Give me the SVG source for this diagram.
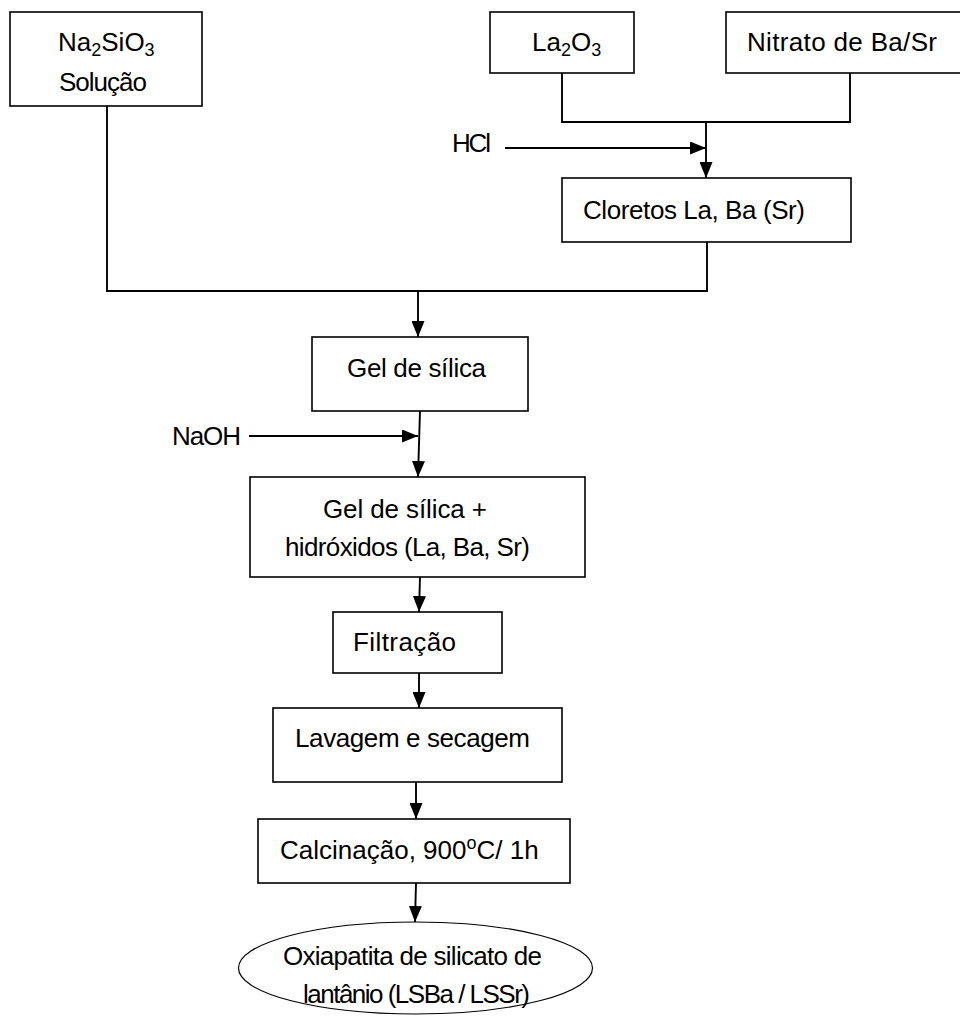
<svg xmlns="http://www.w3.org/2000/svg" width="960" height="1016" viewBox="0 0 960 1016">
<style>
.box{fill:#fff;stroke:#000;stroke-width:1.6}
.ln{fill:none;stroke:#000;stroke-width:1.9}
.t{font-family:"Liberation Sans",Arial,sans-serif;font-size:26px;fill:#000}
</style>
<defs>
<marker id="arr" markerUnits="userSpaceOnUse" viewBox="0 0 16 13" markerWidth="16" markerHeight="13" refX="16" refY="6.5" orient="auto">
<path d="M0,0 L16,6.5 L0,13 z" fill="#000"/>
</marker>
</defs>
<rect width="960" height="1016" fill="#fff"/>
<g id="connectors">
<polyline class="ln" points="562,73 562,122 850,122 850,73"/>
<line class="ln" x1="706" y1="122" x2="706" y2="178" marker-end="url(#arr)"/>
<line class="ln" x1="505" y1="148" x2="706" y2="148" marker-end="url(#arr)"/>
<polyline class="ln" points="107,106 107,291 707,291 707,242"/>
<line class="ln" x1="418" y1="291" x2="418" y2="337" marker-end="url(#arr)"/>
<line class="ln" x1="420" y1="411" x2="418" y2="477" marker-end="url(#arr)"/>
<line class="ln" x1="249" y1="436" x2="418" y2="436" marker-end="url(#arr)"/>
<line class="ln" x1="420" y1="577" x2="419" y2="612" marker-end="url(#arr)"/>
<line class="ln" x1="419" y1="673" x2="419" y2="708" marker-end="url(#arr)"/>
<line class="ln" x1="416" y1="782" x2="416" y2="819" marker-end="url(#arr)"/>
<line class="ln" x1="416" y1="883" x2="415" y2="922" marker-end="url(#arr)"/>
</g>
<g id="na2sio3">
<rect class="box" x="10" y="12" width="192" height="94"/>
<text class="t" x="58" y="51">Na<tspan font-size="18" dy="5">2</tspan><tspan dy="-5">SiO</tspan><tspan font-size="18" dy="5">3</tspan></text>
<text class="t" x="59" y="91" textLength="88">Solução</text>
</g>
<g id="la2o3">
<rect class="box" x="490" y="12" width="144" height="61"/>
<text class="t" x="532" y="51">La<tspan font-size="18" dy="5">2</tspan><tspan dy="-5">O</tspan><tspan font-size="18" dy="5">3</tspan></text>
</g>
<g id="nitrato">
<rect class="box" x="726" y="12" width="240" height="61"/>
<text class="t" x="747" y="51" textLength="190">Nitrato de Ba/Sr</text>
</g>
<g id="hcl">
<text class="t" x="452" y="152" textLength="39">HCl</text>
</g>
<g id="cloretos">
<rect class="box" x="562" y="178" width="289" height="64"/>
<text class="t" x="583" y="219" textLength="222">Cloretos La, Ba (Sr)</text>
</g>
<g id="gel">
<rect class="box" x="312" y="337" width="216" height="74"/>
<text class="t" x="347" y="377" textLength="139">Gel de sílica</text>
</g>
<g id="naoh">
<text class="t" x="172" y="445" textLength="69">NaOH</text>
</g>
<g id="gelhid">
<rect class="box" x="250" y="477" width="335" height="100"/>
<text class="t" x="323" y="518" textLength="164">Gel de sílica +</text>
<text class="t" x="285" y="556" textLength="245">hidróxidos (La, Ba, Sr)</text>
</g>
<g id="filtracao">
<rect class="box" x="333" y="612" width="169" height="61"/>
<text class="t" x="353" y="651" textLength="103">Filtração</text>
</g>
<g id="lavagem">
<rect class="box" x="273" y="708" width="289" height="74"/>
<text class="t" x="295" y="747" textLength="235">Lavagem e secagem</text>
</g>
<g id="calcinacao">
<rect class="box" x="258" y="819" width="312" height="64"/>
<text class="t" x="280" y="859" font-size="27">Calcinação, 900<tspan font-size="18" dy="-10">o</tspan><tspan dy="10">C/ 1h</tspan></text>
</g>
<g id="oxiapatita">
<ellipse cx="415.5" cy="968" rx="177" ry="46" fill="#fff" stroke="#000" stroke-width="1.2"/>
<text class="t" x="283" y="965" textLength="259">Oxiapatita de silicato de</text>
<text class="t" x="303" y="1003" textLength="227">lantânio (LSBa / LSSr)</text>
</g>
</svg>
